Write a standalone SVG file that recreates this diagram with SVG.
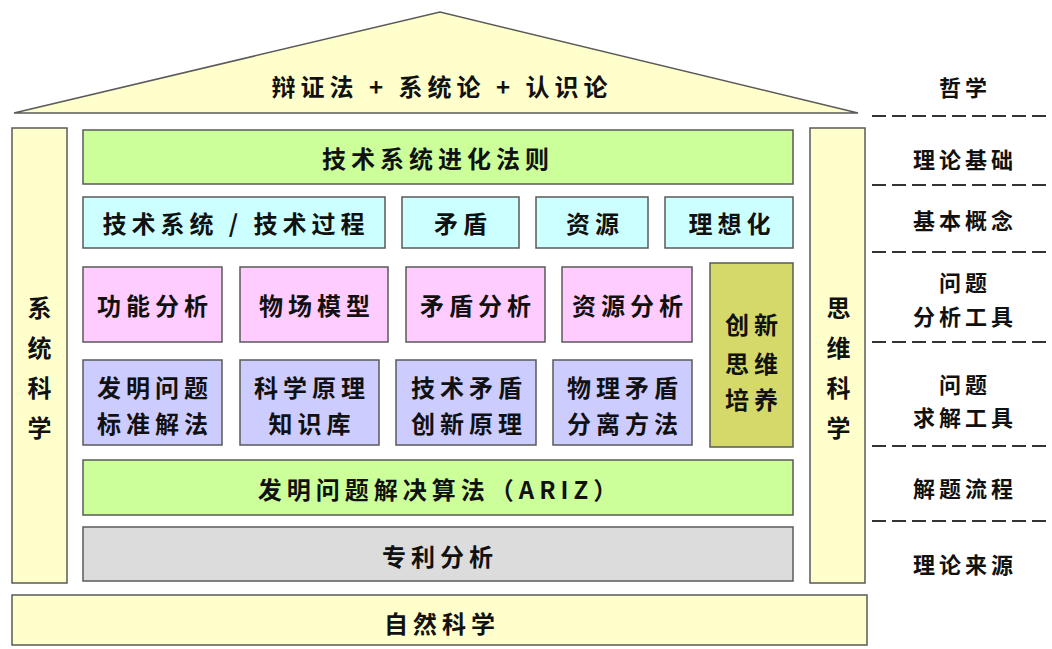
<svg xmlns="http://www.w3.org/2000/svg" width="1052" height="649" viewBox="0 0 1052 649">
<style>
.b{stroke:#5a5a5a;stroke-width:1.5}
.y{fill:#ffffcc}
.g{fill:#ccff99}
.c{fill:#ccffff}
.p{fill:#ffccff}
.l{fill:#ccccff}
.o{fill:#d4d96a}
.gr{fill:#dcdcdc}
text{font-family:"Noto Sans CJK SC","Noto Sans CJK JP",sans-serif;font-weight:700;fill:#111;text-anchor:middle;dominant-baseline:central}
.t{font-size:24px;letter-spacing:5px}
.r{font-size:22px;letter-spacing:4px}
.d{stroke:#333;stroke-width:2;stroke-dasharray:14 6;fill:none}
</style>
<rect width="1052" height="649" fill="#fff"/>
<g id="roof"><polygon class="b y" points="14,113 440,12 858,113"/><text class="t" x="442" y="85">辩证法 + 系统论 + 认识论</text></g>
<g id="left-col"><rect class="b y" x="12" y="128" width="55" height="455"/>
<text class="t" x="42" y="306">系</text><text class="t" x="42" y="346">统</text><text class="t" x="42" y="386">科</text><text class="t" x="42" y="426">学</text></g>
<g id="right-col"><rect class="b y" x="810" y="128" width="55" height="455"/>
<text class="t" x="841" y="306">思</text><text class="t" x="841" y="346">维</text><text class="t" x="841" y="386">科</text><text class="t" x="841" y="426">学</text></g>
<g id="law"><rect class="b g" x="83" y="130" width="710" height="54"/><text class="t" x="438" y="157">技术系统进化法则</text></g>
<g id="ts"><rect class="b c" x="83" y="197" width="302" height="51"/><text class="t" x="236" y="222">技术系统 / 技术过程</text></g>
<g id="md"><rect class="b c" x="402" y="197" width="117" height="51"/><text class="t" x="463" y="222">矛盾</text></g>
<g id="zy"><rect class="b c" x="536" y="197" width="112" height="51"/><text class="t" x="595" y="222">资源</text></g>
<g id="lxh"><rect class="b c" x="665" y="197" width="128" height="51"/><text class="t" x="732" y="222">理想化</text></g>
<g id="gnfx"><rect class="b p" x="83" y="267" width="139" height="75"/><text class="t" x="155" y="304">功能分析</text></g>
<g id="wcmx"><rect class="b p" x="240" y="267" width="148" height="75"/><text class="t" x="317" y="304">物场模型</text></g>
<g id="mdfx"><rect class="b p" x="406" y="267" width="139" height="75"/><text class="t" x="478" y="304">矛盾分析</text></g>
<g id="zyfx"><rect class="b p" x="562" y="267" width="130" height="75"/><text class="t" x="630" y="304">资源分析</text></g>
<g id="cxsw"><rect class="b o" x="710" y="263" width="83" height="184"/><text class="t" x="754" y="323">创新</text><text class="t" x="754" y="362">思维</text><text class="t" x="754" y="398">培养</text></g>
<g id="bzjf"><rect class="b l" x="83" y="360" width="139" height="85"/><text class="t" x="155" y="386">发明问题</text><text class="t" x="155" y="422">标准解法</text></g>
<g id="kxyl"><rect class="b l" x="240" y="360" width="139" height="85"/><text class="t" x="312" y="386">科学原理</text><text class="t" x="312" y="422">知识库</text></g>
<g id="jsmd"><rect class="b l" x="396" y="360" width="140" height="85"/><text class="t" x="469" y="386">技术矛盾</text><text class="t" x="469" y="422">创新原理</text></g>
<g id="wlmd"><rect class="b l" x="553" y="360" width="139" height="85"/><text class="t" x="625" y="386">物理矛盾</text><text class="t" x="625" y="422">分离方法</text></g>
<g id="ariz"><rect class="b g" x="83" y="460" width="710" height="55"/><text class="t" x="440" y="488">发明问题解决算法（ARIZ）</text></g>
<g id="zlfx"><rect class="b gr" x="83" y="527" width="710" height="54"/><text class="t" x="440" y="555">专利分析</text></g>
<g id="zrkx"><rect class="b y" x="12" y="595" width="855" height="50"/><text class="t" x="442" y="622">自然科学</text></g>
<g id="levels">
<text class="r" x="965" y="86">哲学</text>
<text class="r" x="965" y="158">理论基础</text>
<text class="r" x="965" y="219">基本概念</text>
<text class="r" x="965" y="281">问题</text><text class="r" x="965" y="315">分析工具</text>
<text class="r" x="965" y="383">问题</text><text class="r" x="965" y="416">求解工具</text>
<text class="r" x="965" y="487">解题流程</text>
<text class="r" x="965" y="563">理论来源</text>
</g>
<g id="connectors">
<line class="d" x1="872" y1="116" x2="1052" y2="116"/>
<line class="d" x1="872" y1="185" x2="1052" y2="185"/>
<line class="d" x1="872" y1="252" x2="1052" y2="252"/>
<line class="d" x1="872" y1="342" x2="1052" y2="342"/>
<line class="d" x1="872" y1="446" x2="1052" y2="446"/>
<line class="d" x1="872" y1="521" x2="1052" y2="521"/>
</g>
</svg>
